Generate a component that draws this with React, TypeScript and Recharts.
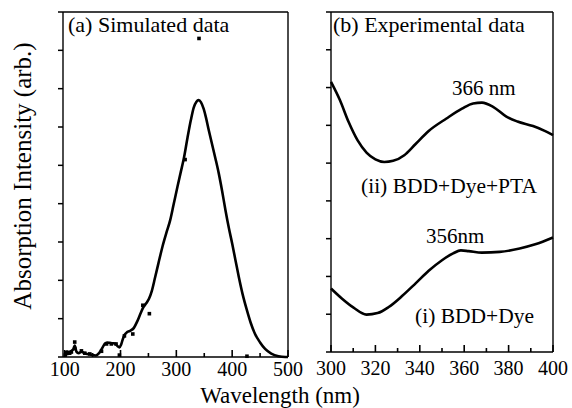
import { ComposedChart, Line, Scatter, XAxis, YAxis } from "recharts";

const FONT = "Liberation Serif";

// (a) simulated spectrum
const simWavelength = [100, 104, 108, 112, 116, 118, 121, 125, 130, 135, 140, 145, 150, 155, 160, 164, 168, 172, 176, 181, 186, 191, 195, 198, 201, 204, 207, 212, 218, 224, 230, 236, 241, 246, 251, 256, 262, 268, 275, 282, 289, 295, 302, 308, 313, 320, 326, 331, 336, 340, 344, 349, 353, 358, 364, 370, 376, 382, 388, 394, 400, 406, 412, 419, 426, 433, 441, 450, 459, 470, 483, 495, 500];
const simIntensity = [0.1, 0.14, 0.1, 0.16, 0.22, 0.3, 0.14, 0.1, 0.14, 0.1, 0.08, 0.07, 0.05, 0.04, 0.08, 0.15, 0.25, 0.35, 0.38, 0.37, 0.36, 0.34, 0.28, 0.25, 0.32, 0.46, 0.57, 0.65, 0.69, 0.76, 0.93, 1.14, 1.3, 1.4, 1.52, 1.72, 2.08, 2.45, 2.87, 3.23, 3.57, 3.97, 4.44, 4.83, 5.15, 5.72, 6.18, 6.5, 6.66, 6.7, 6.65, 6.47, 6.25, 5.92, 5.55, 5.18, 4.79, 4.33, 3.83, 3.37, 2.96, 2.52, 2.08, 1.62, 1.24, 0.9, 0.6, 0.38, 0.21, 0.09, 0.02, 0, 0];

const simPointWavelength = [101, 103.5, 106, 109, 112, 118, 118, 130, 136, 145, 166, 175, 183.5, 192, 198, 207, 222, 240, 251.7, 315.7, 340.6, 426.5];
const simPointIntensity = [0.05, 0.09, 0.12, 0.1, 0.13, 0.39, 0.22, 0.16, 0.1, 0.08, 0.15, 0.34, 0.34, 0.34, 0.05, 0.55, 0.6, 1.35, 1.13, 5.15, 8.31, 0.02];

// (b) experimental spectra
const ptaWavelength = [300, 304, 308, 312, 316, 320, 324, 328, 333, 338, 344, 352, 359, 364, 368, 373, 379, 384, 391, 396, 400];
const ptaIntensity = [7.15, 6.67, 6.08, 5.6, 5.28, 5.1, 5.03, 5.06, 5.21, 5.5, 5.85, 6.18, 6.44, 6.58, 6.6, 6.49, 6.23, 6.1, 5.98, 5.86, 5.74];

const dyeWavelength = [300, 305, 310, 316, 321, 326, 332, 338, 344, 350, 355, 358.5, 362, 368, 376, 385, 392, 400];
const dyeIntensity = [1.68, 1.41, 1.18, 0.99, 1.03, 1.19, 1.48, 1.81, 2.15, 2.43, 2.61, 2.69, 2.67, 2.63, 2.65, 2.74, 2.85, 3.03];

const simTicks = [100, 150, 200, 250, 300, 350, 400, 450, 500];
const simLabels = [100, 200, 300, 400, 500];
const expTicks = [300, 310, 320, 330, 340, 350, 360, 370, 380, 390, 400];
const expLabels = [300, 320, 340, 360, 380, 400];
const yTicks = [0, 1, 2, 3, 4, 5, 6, 7, 8, 9];

const zip = (xs: number[], ys: number[]) => xs.map((x, i) => ({ x, y: ys[i] }));

// x tick labels only, the marks are drawn by the tick scatter below
function XLabel(props: any) {
  const { x, y, payload, dy } = props;
  return (
    <text x={x} y={y + dy} textAnchor="middle" fontSize={20} fontFamily={FONT} fill="#000">
      {payload.value}
    </text>
  );
}

// inward tick mark sitting on the x axis (y = 0)
const TickMark = (props: any) => {
  const { cx, cy, payload } = props;
  const len = payload.major ? 7 : 4;
  return <path d={`M${cx},${cy}V${cy - len}`} stroke="#000" strokeWidth={1.6} fill="none" />;
};

// y ticks point outward, no labels
function OutTick(props: any) {
  const { x, y } = props;
  return <path d={`M${x},${y}H${x - 5}`} stroke="#000" strokeWidth={1.5} fill="none" />;
}

const Square = (props: any) => (
  <rect x={props.cx - 1.8} y={props.cy - 1.8} width={3.6} height={3.6} fill="#000" />
);

function Frame({ domain, ticks, labels, dy }: any) {
  return [
    <XAxis key="b" xAxisId="b" dataKey="x" type="number" domain={domain} ticks={labels} interval={0}
      height={1} tickSize={0} tickMargin={0} tickLine={false} stroke="#000" strokeWidth={1.4}
      tick={<XLabel dy={dy} />} />,
    <XAxis key="t" xAxisId="t" dataKey="x" type="number" domain={domain} orientation="top"
      height={1} tick={false} tickLine={false} stroke="#000" strokeWidth={1.4} />,
    <YAxis key="l" yAxisId="l" type="number" domain={[0, 9]} ticks={yTicks} interval={0} width={1}
      tickSize={0} tickMargin={0} tickLine={false} tick={<OutTick />} stroke="#000" strokeWidth={1.4} />,
    <YAxis key="r" yAxisId="r" type="number" domain={[0, 9]} orientation="right" width={1}
      tick={false} tickLine={false} stroke="#000" strokeWidth={1.4} />,
    <Scatter key="ticks" xAxisId="b" yAxisId="l" dataKey="y"
      data={ticks.map((v: number) => ({ x: v, y: 0, major: labels.includes(v) }))}
      shape={<TickMark />} isAnimationActive={false} />,
  ];
}

export default function App() {
  return (
    <div style={{ position: "absolute", left: 0, top: 0, width: 572, height: 408, background: "#fff" }}>
      <svg width={572} height={408} style={{ position: "absolute", left: 0, top: 0 }}
        fontFamily={FONT} fill="#000">
        <text x={68} y={32} fontSize={22}>(a) Simulated data</text>
        <text x={333} y={32} fontSize={22}>(b) Experimental data</text>
        <text x={452} y={95} fontSize={21}>366 nm</text>
        <text x={361} y={193} fontSize={21.5}>(ii) BDD+Dye+PTA</text>
        <text x={426} y={243} fontSize={21}>356nm</text>
        <text x={415} y={323} fontSize={21.5}>(i) BDD+Dye</text>
        <text x={280} y={403} fontSize={23} textAnchor="middle">Wavelength (nm)</text>
        <text x={31} y={176} fontSize={25} textAnchor="middle" transform="rotate(-90, 31, 176)">
          Absorption Intensity (arb.)
        </text>
      </svg>
      <div style={{ position: "absolute", left: 0, top: 0 }}>
        <ComposedChart width={310} height={408} margin={{ top: 11, right: 21, left: 62, bottom: 50 }}>
          {Frame({ domain: [97, 500], ticks: simTicks, labels: simLabels, dy: 19 })}
          <Line xAxisId="b" yAxisId="l" data={zip(simWavelength, simIntensity)} dataKey="y" type="monotone"
            stroke="#000" strokeWidth={2.6} dot={false} isAnimationActive={false} />
          <Scatter xAxisId="b" yAxisId="l" data={zip(simPointWavelength, simPointIntensity)} dataKey="y"
            shape={<Square />} isAnimationActive={false} />
        </ComposedChart>
      </div>
      <div style={{ position: "absolute", left: 310, top: 0 }}>
        <ComposedChart width={262} height={408} margin={{ top: 11, right: 18, left: 20, bottom: 55 }}>
          {Frame({ domain: [300, 400], ticks: expTicks, labels: expLabels, dy: 23 })}
          <Line xAxisId="b" yAxisId="l" data={zip(ptaWavelength, ptaIntensity)} dataKey="y" type="monotone"
            stroke="#000" strokeWidth={2.6} dot={false} isAnimationActive={false} />
          <Line xAxisId="b" yAxisId="l" data={zip(dyeWavelength, dyeIntensity)} dataKey="y" type="monotone"
            stroke="#000" strokeWidth={2.6} dot={false} isAnimationActive={false} />
        </ComposedChart>
      </div>
    </div>
  );
}
